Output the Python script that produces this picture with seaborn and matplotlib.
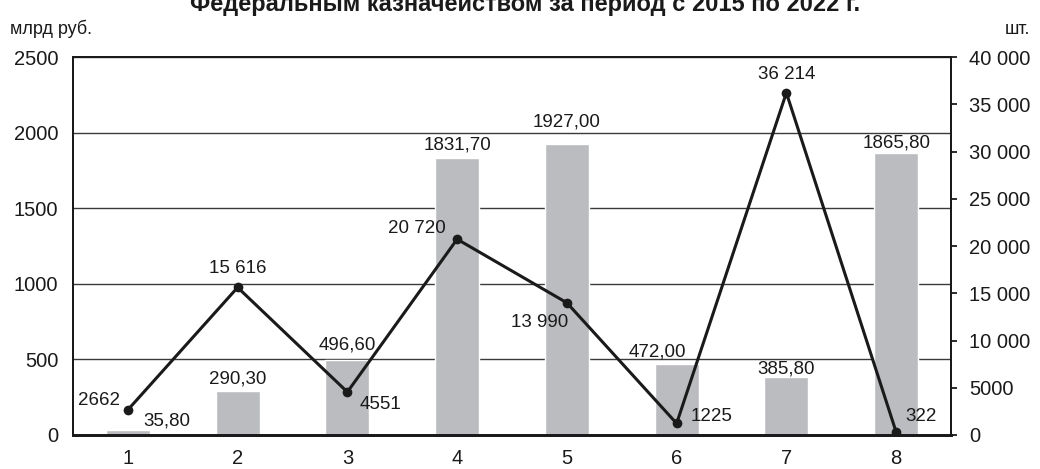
import numpy as np
import pandas as pd
import matplotlib
matplotlib.use("Agg")
import matplotlib.pyplot as plt
import seaborn as sns
from matplotlib.ticker import FuncFormatter, MultipleLocator

# Data
periods = ["1", "2", "3", "4", "5", "6", "7", "8"]
amount_bln = [35.80, 290.30, 496.60, 1831.70, 1927.00, 472.00, 385.80, 1865.80]
count_pcs = [2662, 15616, 4551, 20720, 13990, 1225, 36214, 322]

title = "Федеральным казначейством за период с 2015 по 2022 г."
left_unit = "млрд руб."
right_unit = "шт."

# Label offsets (pixels) relative to the mark they describe
amount_offsets = [(39, 9), (0, 12), (0, 15), (0, 13), (0, 22), (-19, 12), (0, 8), (0, 10)]
count_offsets = [(-29, 9), (0, 19), (33, -13), (-40, 11), (-27, -20), (35, 7), (0, 18), (25, 15)]


def ru_int(v):
    n = int(round(v))
    if abs(n) >= 10000:
        return f"{n:,}".replace(",", " ")
    return str(n)


def ru_dec(v):
    return f"{v:.2f}".replace(".", ",")


sns.set_theme(style="white")
plt.rcParams["font.family"] = ["Liberation Sans", "DejaVu Sans"]
plt.rcParams["text.color"] = "#1a1a1a"

W, H = 1040, 469
fig = plt.figure(figsize=(W / 100, H / 100), dpi=100)
ax = fig.add_axes([73 / W, 1 - 435 / H, (951 - 73) / W, (435 - 57) / H])

df = pd.DataFrame({"period": periods, "amount": amount_bln, "count": count_pcs})
sns.barplot(data=df, x="period", y="amount", color="#bbbcbf", saturation=1,
            width=0.4, ax=ax, zorder=2)

ax.set_xlim(-0.5, len(periods) - 0.5)
ax.set_ylim(0, 2500)
ax.yaxis.set_major_locator(MultipleLocator(500))
ax.yaxis.grid(True, color="#3a3a3a", linewidth=1)
ax.set_axisbelow(True)
ax.set_xlabel("")
ax.set_ylabel("")
ax.tick_params(axis="y", left=False, length=0, pad=10.5, labelsize=14.5, labelcolor="#1a1a1a")
ax.tick_params(axis="x", bottom=False, length=0, pad=10, labelsize=14.5, labelcolor="#1a1a1a")

ax2 = ax.twinx()
sns.lineplot(x=np.arange(len(periods)), y=count_pcs, ax=ax2, color="#1a1a1a",
             linewidth=2.2, marker="o", markersize=7, markeredgewidth=0, zorder=4)
ax2.set_ylim(0, 40000)
ax2.yaxis.set_major_locator(MultipleLocator(5000))
ax2.yaxis.set_major_formatter(FuncFormatter(lambda v, p: ru_int(v)))
ax2.set_ylabel("")
ax2.tick_params(axis="y", right=True, direction="out", length=4, width=1.3,
                color="#1a1a1a", pad=9, labelsize=14.5, labelcolor="#1a1a1a")

for a in (ax, ax2):
    for name, sp in a.spines.items():
        sp.set_visible(True)
        sp.set_color("#1a1a1a")
        sp.set_linewidth(1.4)
    a.spines["bottom"].set_linewidth(2)

# Value labels
for i, (v, off) in enumerate(zip(amount_bln, amount_offsets)):
    ax2.annotate(ru_dec(v), xy=(i, v * 40000 / 2500), xytext=off,
                 textcoords="offset pixels", ha="center", va="center",
                 fontsize=13.5, color="#1a1a1a", zorder=5)
for i, (v, off) in enumerate(zip(count_pcs, count_offsets)):
    ax2.annotate(ru_int(v), xy=(i, v), xytext=off, textcoords="offset pixels",
                 ha="center", va="center", fontsize=13.5, color="#1a1a1a", zorder=5)

fig.text(0.505, 1 - 11 / H, title, ha="center", va="baseline", fontsize=17,
         fontweight="bold", color="#1a1a1a")
fig.text(10 / W, 1 - 34 / H, left_unit, ha="left", va="baseline", fontsize=13,
         color="#1a1a1a")
fig.text(1030 / W, 1 - 34 / H, right_unit, ha="right", va="baseline", fontsize=13,
         color="#1a1a1a")

fig.savefig("out.png", dpi=100)
